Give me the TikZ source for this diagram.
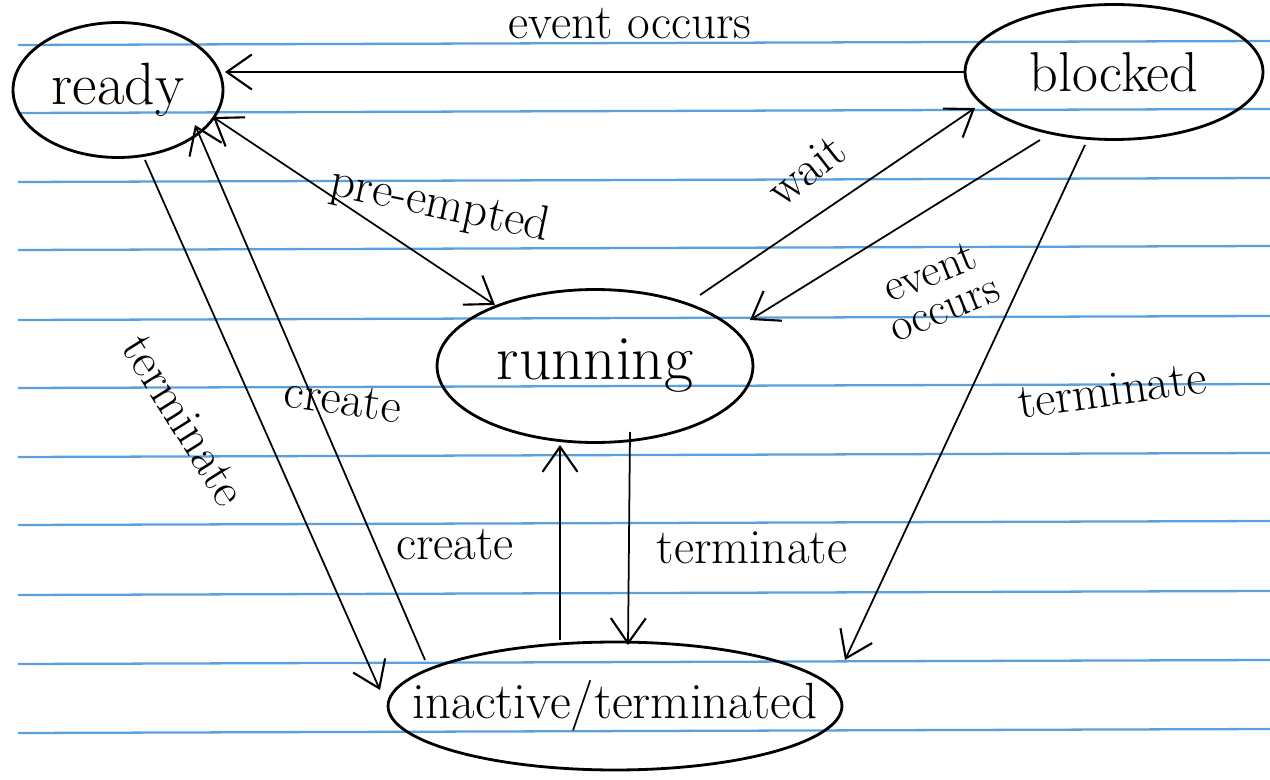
\documentclass[tikz,border=0pt]{standalone}
\usetikzlibrary{shapes.geometric,arrows.meta}
\definecolor{rule}{RGB}{90,160,220}
\begin{document}
\begin{tikzpicture}[x=0.02cm,y=-0.02cm,
  state/.style={draw,ellipse,line width=1.6pt,inner sep=0pt,font=\fontsize{34}{38}\selectfont},
  barb/.tip={Straight Barb[length=5mm,width=7mm,line width=1.2pt]},
  conn/.style={line width=1pt,-barb},
  lbl/.style={font=\fontsize{28}{30}\selectfont,inner sep=1pt,align=center}]
\useasboundingbox (0,0) rectangle (1270,780);
\fill[white] (0,0) rectangle (1270,780);
% ruled paper
\foreach \yy in {45,113,182,250,320,388,457,525,595,664,733}
  \draw[rule,line width=1.3pt] (18,\yy) -- (1270,\yy-4);
% states
\node[state,minimum width=4.2cm,minimum height=2.7cm] (ready) at (118,90) {ready};
\node[state,minimum width=5.96cm,minimum height=2.7cm,font=\fontsize{32}{36}\selectfont] (blocked) at (1114,72) {blocked};
\node[state,minimum width=6.32cm,minimum height=3.06cm,font=\fontsize{36}{40}\selectfont] (running) at (595,366) {running};
\node[state,inner xsep=-0.9cm,minimum width=9.08cm,minimum height=2.56cm,font=\fontsize{29}{32}\selectfont] (inactive) at (615,706) {inactive/terminated};
% connector end points
\coordinate (bL) at (965,72);   \coordinate (rR) at (225,72);
\coordinate (rPE) at (213,117); \coordinate (uPE) at (495,305);
\coordinate (uW) at (700,295);  \coordinate (bW) at (975,108);
\coordinate (bE) at (1040,140); \coordinate (uE) at (750,320);
\coordinate (rT) at (145,160);  \coordinate (iT) at (380,690);
\coordinate (iC) at (425,660);  \coordinate (rC) at (195,125);
\coordinate (iC2) at (560,640); \coordinate (uC2) at (560,445);
\coordinate (uT2) at (630,432); \coordinate (iT2) at (628,645);
\coordinate (bT) at (1085,145); \coordinate (iT3) at (845,660);
% connectors
\draw[conn] (bL) -- (rR);
\draw[conn,barb-barb] (rPE) -- (uPE);
\draw[conn] (uW) -- (bW);
\draw[conn] (bE) -- (uE);
\draw[conn] (rT) -- (iT);
\draw[conn] (iC) -- (rC);
\draw[conn] (iC2) -- (uC2);
\draw[conn] (uT2) -- (iT2);
\draw[conn] (bT) -- (iT3);
% labels
\node[lbl] (l1) at (630,24) {event occurs};
\node[lbl,rotate=-12] (l2) at (440,206) {pre-empted};
\node[lbl,rotate=38] (l3) at (806,170) {wait};
\node[lbl,rotate=22,font=\fontsize{26}{28}\selectfont] (l4) at (937,290) {event\\[-6pt]occurs};
\node[lbl,rotate=-58] (l5) at (184,420) {terminate};
\node[lbl,rotate=-8] (l6) at (343,400) {create};
\node[lbl] (l7) at (455,545) {create};
\node[lbl] (l8) at (752,548) {terminate};
\node[lbl,rotate=8] (l9) at (1112,390) {terminate};
\end{tikzpicture}
\end{document}
